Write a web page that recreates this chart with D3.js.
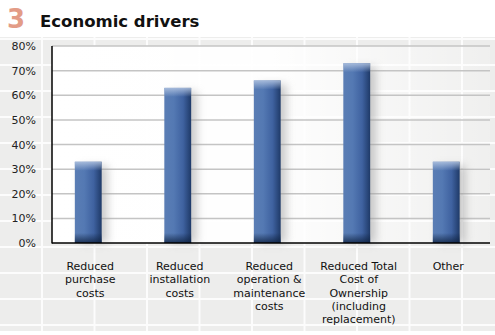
<!DOCTYPE html>
<html><head><meta charset="utf-8">
<script src="https://cdn.jsdelivr.net/npm/d3@7"></script>
<style>body{margin:0;background:#fff}svg{display:block}</style>
</head><body>
<script>
const categories = [
  ["Reduced","purchase","costs"],
  ["Reduced","installation","costs"],
  ["Reduced","operation &","maintenance","costs"],
  ["Reduced Total","Cost of","Ownership","(including","replacement)"],
  ["Other"]
];
const values = [33, 63, 66, 73, 33];
const yTicks = [0, 10, 20, 30, 40, 50, 60, 70, 80];
const titleNum = "3";
const titleText = "Economic drivers";

const W = 495, H = 335;
const svg = d3.select("body").append("svg").attr("width", W).attr("height", H);
const defs = svg.append("defs");
const font = "DejaVu Sans, Verdana, sans-serif";

// background tiles
const bgTop = 37, bgBot = 331;
svg.append("rect").attr("x",0).attr("y",bgTop).attr("width",W).attr("height",bgBot-bgTop).attr("fill","#ededec");
svg.append("g").selectAll("line.v").data(d3.range(42, W, 52.5)).join("line")
  .attr("x1",d=>d).attr("x2",d=>d).attr("y1",bgTop).attr("y2",bgBot)
  .attr("stroke","#fcfcfc").attr("stroke-width",2);
svg.append("g").selectAll("line.h").data(d3.range(325, bgTop, -26)).join("line")
  .attr("x1",0).attr("x2",W).attr("y1",d=>d).attr("y2",d=>d)
  .attr("stroke","#fcfcfc").attr("stroke-width",2);

// title
svg.append("text").attr("x",7).attr("y",28).attr("font-family",font).attr("font-weight","bold")
  .attr("font-size",26).attr("fill","#e39c87").text(titleNum);
svg.append("text").attr("x",40).attr("y",27).attr("font-family",font).attr("font-weight","bold")
  .attr("font-size",16.5).attr("fill","#111").text(titleText);

const x0 = 52, x1 = 490, yTop = 46, yBot = 243;
const y = d3.scaleLinear().domain([0, 80]).range([yBot, yTop]);
const x = d3.scaleBand().domain(d3.range(values.length)).range([43.5, 491]).paddingInner(0.7).paddingOuter(0.35);

// plot background
const pg = defs.append("linearGradient").attr("id","pg").attr("x1","0").attr("x2","1").attr("y1","0").attr("y2","0");
pg.append("stop").attr("offset","0").attr("stop-color","#fff").attr("stop-opacity",1);
pg.append("stop").attr("offset","0.5").attr("stop-color","#fff").attr("stop-opacity",0.95);
pg.append("stop").attr("offset","1").attr("stop-color","#fff").attr("stop-opacity",0.15);
svg.append("rect").attr("x",x0).attr("y",yTop).attr("width",x1-x0).attr("height",yBot-yTop).attr("fill","url(#pg)");

// gridlines
svg.append("g").selectAll("line").data(yTicks.filter(d=>d>0)).join("line")
  .attr("x1",x0).attr("x2",x1).attr("y1",d=>y(d)).attr("y2",d=>y(d))
  .attr("stroke","#c4c4c4").attr("stroke-width",1.5);

// y tick labels
svg.append("g").selectAll("text").data(yTicks).join("text")
  .attr("x",36).attr("y",d=>y(d)+4).attr("text-anchor","end")
  .attr("font-family",font).attr("font-size",11).attr("fill","#222")
  .text(d=>d+"%");

// shadows
const f = defs.append("filter").attr("id","sh").attr("x","-50%").attr("y","-20%").attr("width","200%").attr("height","140%");
f.append("feGaussianBlur").attr("stdDeviation",4);
svg.append("g").selectAll("rect").data(values).join("rect")
  .attr("x",(d,i)=>x(i)+6).attr("y",d=>y(d)+4).attr("width",x.bandwidth()).attr("height",d=>yBot-y(d)-4)
  .attr("fill","#9a9a9a").attr("opacity",0.5).attr("filter","url(#sh)");

// bar gradients
const bg = defs.append("linearGradient").attr("id","bg").attr("x1","0").attr("x2","1").attr("y1","0").attr("y2","0");
[["0","#5a7db4"],["0.35","#5479b3"],["0.7","#3f62a0"],["1","#1f3a68"]].forEach(s=>bg.append("stop").attr("offset",s[0]).attr("stop-color",s[1]));
const topG = defs.append("linearGradient").attr("id","tg").attr("x1","0").attr("x2","0").attr("y1","0").attr("y2","1");
topG.append("stop").attr("offset","0").attr("stop-color","#b4c6e2").attr("stop-opacity",0.85);
topG.append("stop").attr("offset","1").attr("stop-color","#b4c6e2").attr("stop-opacity",0);
const botG = defs.append("linearGradient").attr("id","btg").attr("x1","0").attr("x2","0").attr("y1","0").attr("y2","1");
botG.append("stop").attr("offset","0").attr("stop-color","#0f2240").attr("stop-opacity",0);
botG.append("stop").attr("offset","1").attr("stop-color","#0f2240").attr("stop-opacity",0.8);

const bars = svg.append("g");
bars.selectAll("rect.b").data(values).join("rect").attr("class","b")
  .attr("x",(d,i)=>x(i)).attr("y",d=>y(d)).attr("width",x.bandwidth()).attr("height",d=>yBot-y(d))
  .attr("fill","url(#bg)");
bars.selectAll("rect.t").data(values).join("rect").attr("class","t")
  .attr("x",(d,i)=>x(i)).attr("y",d=>y(d)).attr("width",x.bandwidth()).attr("height",9)
  .attr("fill","url(#tg)");
bars.selectAll("rect.bt").data(values).join("rect").attr("class","bt")
  .attr("x",(d,i)=>x(i)).attr("y",yBot-10).attr("width",x.bandwidth()).attr("height",10)
  .attr("fill","url(#btg)");

// axes
svg.append("line").attr("x1",x0).attr("x2",x0).attr("y1",yTop).attr("y2",yBot+0.5).attr("stroke","#000").attr("stroke-width",1.5);
svg.append("line").attr("x1",x0).attr("x2",x1).attr("y1",yBot).attr("y2",yBot).attr("stroke","#000").attr("stroke-width",1.5);

// category labels
const lab = svg.append("g").selectAll("text").data(categories).join("text")
  .attr("text-anchor","middle").attr("font-family",font).attr("font-size",11).attr("fill","#111");
lab.each(function(lines,i){
  d3.select(this).selectAll("tspan").data(lines).join("tspan")
    .attr("x", x(i)+x.bandwidth()/2+2).attr("y",(d,j)=>270+j*13.3).text(d=>d);
});
</script>
</body></html>
